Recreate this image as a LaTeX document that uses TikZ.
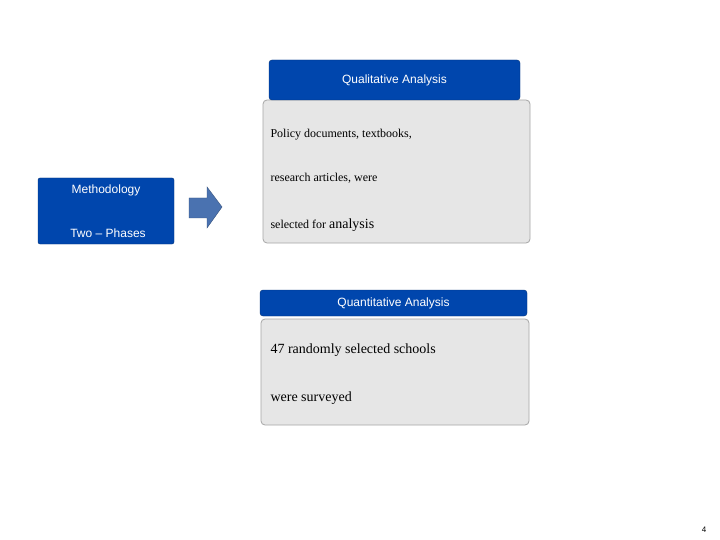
\documentclass[tikz,border=0pt]{standalone}
\usepackage{fontspec}
\setmainfont{Liberation Serif}
\setsansfont{Liberation Sans}
\definecolor{hdr}{HTML}{0046AD}
\definecolor{bodyg}{HTML}{E6E6E6}
\definecolor{arr}{HTML}{4A72B0}
\begin{document}
\begin{tikzpicture}[x=1pt,y=-1pt,
  hbox/.style={fill=hdr,draw=hdr!70!black,rounded corners=3pt,text=white,font=\sffamily\fontsize{12}{14}\selectfont},
  gbox/.style={fill=bodyg,draw=gray!70,rounded corners=4pt,line width=0.8pt},
  bt/.style={anchor=west,font=\fontsize{12}{14}\selectfont}]
\useasboundingbox (0,0) rectangle (720,540);
\fill[white] (0,0) rectangle (720,540);
% methodology
\node[hbox,minimum width=136,minimum height=66,rounded corners=2pt] (meth) at (106,211) {};
\node[text=white,font=\sffamily\fontsize{12}{14}\selectfont] (m1) at (106,190) {Methodology};
\node[text=white,font=\sffamily\fontsize{12}{14}\selectfont] (m2) at (108,233) {Two -- Phases};
% arrow
\draw[fill=arr,draw=arr!70!black] (189,198) -- (207,198) -- (207,187) -- (222,207) -- (207,228) -- (207,218) -- (189,218) -- cycle;
% qualitative
\node[gbox,minimum width=267,minimum height=143] (qb) at (396.5,171.5) {};
\node[hbox,minimum width=251,minimum height=40] (qh) at (394.5,80) {Qualitative Analysis};
\node[bt] (q1) at (267,135) {Policy documents, textbooks,};
\node[bt] (q2) at (267,178) {research articles, were};
\node[bt] (q3) at (267,225) {selected for {\fontsize{14}{16}\selectfont analysis}};
% quantitative
\node[hbox,minimum width=267,minimum height=26] (nh) at (393.5,303) {Quantitative Analysis};
\node[gbox,minimum width=268,minimum height=106] (nb) at (395,372) {};
\node[bt,font=\fontsize{14}{16}\selectfont] (n1) at (267,350) {47 randomly selected schools};
\node[bt,font=\fontsize{14}{16}\selectfont] (n2) at (267,398) {were surveyed};
\node[font=\sffamily\fontsize{8}{9}\selectfont] (pg) at (704,530) {4};
\end{tikzpicture}
\end{document}
